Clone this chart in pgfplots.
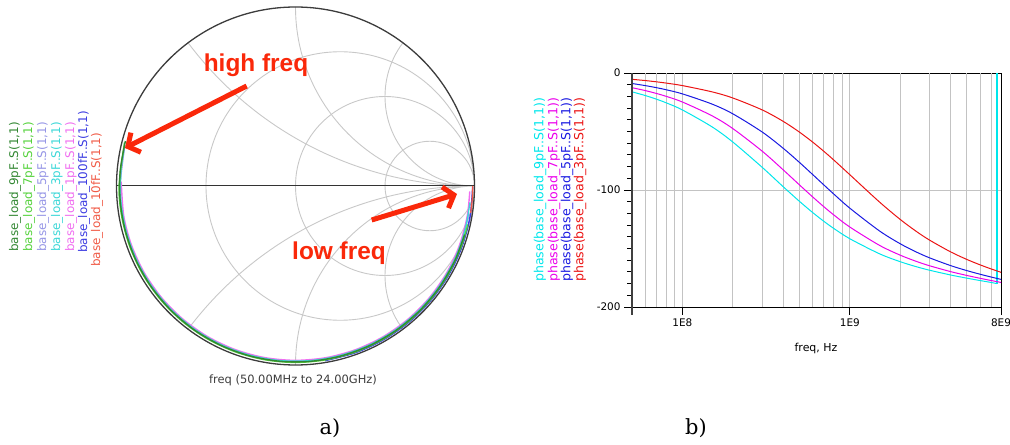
\documentclass[border=0pt]{standalone}
\usepackage{pgfplots}
\pgfplotsset{compat=1.18}
\usepackage{fontspec}
\setmainfont{DejaVu Sans}
\newfontfamily\arrowfont{Liberation Sans}
\newfontfamily\capfont{DejaVu Serif}
\usetikzlibrary{arrows.meta}
\definecolor{gridc}{RGB}{200,200,200}
\definecolor{gridb}{RGB}{195,195,195}
\definecolor{darkc}{RGB}{60,60,60}
\definecolor{arrowred}{RGB}{250,40,10}
\definecolor{cDkGreen}{RGB}{50,135,50}
\definecolor{cLtGreen}{RGB}{85,210,60}
\definecolor{cLav}{RGB}{150,150,230}
\definecolor{cCyanA}{RGB}{60,215,215}
\definecolor{cPink}{RGB}{240,110,240}
\definecolor{cBlueA}{RGB}{60,60,225}
\definecolor{cRedA}{RGB}{240,90,70}
\definecolor{cCyan}{RGB}{0,230,235}
\definecolor{cMag}{RGB}{235,0,235}
\definecolor{cBlue}{RGB}{25,25,225}
\definecolor{cRed}{RGB}{235,20,20}
\pgfplotstableread{
f p
5e7 -16.09
6e7 -19.26
7e7 -22.39
8e7 -25.49
1e8 -31.58
1.5e8 -45.96
2e8 -59.00
3e8 -80.70
4e8 -97.21
5e8 -109.68
6e8 -119.28
7e8 -126.78
8e8 -132.76
1e9 -141.66
1.5e9 -154.45
2e9 -161.29
2.5e9 -165.60
3e9 -168.60
4e9 -172.64
5e9 -175.35
6e9 -177.39
7e9 -179.05
7.4e9 -179.75
7.55e9 -180
}\tNine
\pgfplotstableread{
f p
7.55e9 -180
7.55e9 -100
7.55e9 0
}\tNineWrap
\pgfplotstableread{
f p
5e7 -12.55
6e7 -15.03
7e7 -17.50
8e7 -19.96
1e8 -24.80
1.5e8 -36.52
2e8 -47.50
3e8 -66.90
4e8 -82.80
5e8 -95.62
6e8 -105.94
7e8 -114.33
8e8 -121.18
1e9 -131.66
1.5e9 -147.22
2e9 -155.70
2.5e9 -161.06
3e9 -164.80
4e9 -169.76
5e9 -173.04
6e9 -175.47
7e9 -177.40
8e9 -179.02
}\tSeven
\pgfplotstableread{
f p
5e7 -8.98
6e7 -10.77
7e7 -12.55
8e7 -14.32
1e8 -17.85
1.5e8 -26.52
2e8 -34.89
3e8 -50.50
4e8 -64.36
5e8 -76.42
6e8 -86.81
7e8 -95.70
8e8 -103.32
1e9 -115.54
1.5e9 -134.89
2e9 -145.95
2.5e9 -153.05
3e9 -158.03
4e9 -164.62
5e9 -168.90
6e9 -172.00
7e9 -174.42
8e9 -176.41
}\tFive
\pgfplotstableread{
f p
5e7 -5.40
6e7 -6.47
7e7 -7.55
8e7 -8.62
1e8 -10.77
1.5e8 -16.09
2e8 -21.35
3e8 -31.59
4e8 -41.34
5e8 -50.52
6e8 -59.08
7e8 -66.98
8e8 -74.24
1e9 -86.94
1.5e9 -110.14
2e9 -125.17
2.5e9 -135.48
3e9 -142.90
4e9 -152.89
5e9 -159.36
6e9 -163.98
7e9 -167.52
8e9 -170.36
}\tThree
\begin{document}
\begin{tikzpicture}
\path[use as bounding box] (0bp,0bp) rectangle (1010bp,445bp);
% ---------- Smith chart grid ----------
\begin{scope}[shift={(295.5bp,259bp)}, x=179bp, y=179bp]
  \begin{scope}
    \clip (0,0) circle[radius=1];
    \draw[gridc, line width=0.9bp] (0.25,0) circle[radius=0.75] (0.5,0) circle[radius=0.5] (0.75,0) circle[radius=0.25];
    \draw[gridc, line width=0.9bp] (1,2) circle[radius=2] (1,-2) circle[radius=2] (1,1) circle[radius=1] (1,-1) circle[radius=1] (1,0.5) circle[radius=0.5] (1,-0.5) circle[radius=0.5];
  \end{scope}
  \draw[darkc, line width=1.3bp] (0,0) circle[radius=1];
  \draw[black!80, line width=1bp] (-1,0) -- (1,0);
\end{scope}
% ---------- Smith chart traces ----------
\begin{axis}[
  at={(295.5bp,259bp)}, anchor=center,
  x=179bp, y=179bp, xmin=-1, xmax=1, ymin=-1, ymax=1,
  hide axis, clip=false,
]
\addplot[cPink, line width=1.4bp, smooth, data cs=polar] coordinates {
(-1.8,0.974) (-10,0.974) (-20,0.974) (-30,0.974) (-40,0.974) (-50,0.974) (-60,0.974) (-70,0.974) (-80,0.974) (-90,0.974) (-100,0.974) (-110,0.974) (-120,0.974) (-130,0.974) (-140,0.974) (-150,0.974) (-160,0.974) (-170,0.974) (-181.4,0.974)};
\addplot[cLav, line width=1.3bp, smooth, data cs=polar] coordinates {
(-9,0.98) (-20,0.98) (-30,0.98) (-40,0.98) (-50,0.98) (-60,0.98) (-70,0.98) (-80,0.98) (-90,0.98) (-100,0.98) (-110,0.98) (-120,0.98) (-130,0.98) (-140,0.98) (-150,0.98) (-160,0.98) (-170,0.98) (-180,0.98) (-193.5,0.98)};
\addplot[cCyanA, line width=1.3bp, smooth, data cs=polar] coordinates {
(-5.4,0.979) (-15,0.979) (-25,0.979) (-35,0.979) (-45,0.979) (-55,0.979) (-65,0.979) (-75,0.979) (-85,0.979) (-95,0.979) (-105,0.979) (-115,0.979) (-125,0.979) (-135,0.979) (-145,0.979) (-155,0.979) (-165,0.979) (-175,0.979) (-185,0.979) (-191.5,0.979)};
\addplot[cBlueA, line width=1.4bp, smooth, data cs=polar] coordinates {
(-0.2,0.99) (-10,0.99) (-20,0.99) (-30,0.99) (-40,0.99) (-50,0.99) (-60,0.99) (-70,0.99) (-80.4,0.99)};
\addplot[cRedA, line width=1.3bp, smooth, data cs=polar] coordinates {
(0,0.99) (-3,0.99) (-6,0.99) (-8.7,0.99)};
\addplot[cLtGreen, line width=1.3bp, smooth, data cs=polar] coordinates {
(-12.6,0.986) (-20,0.986) (-30,0.986) (-40,0.986) (-50,0.986) (-60,0.986) (-70,0.986) (-80,0.986) (-90,0.986) (-100,0.986) (-110,0.986) (-120,0.986) (-130,0.986) (-140,0.986) (-150,0.986) (-160,0.986) (-170,0.986) (-180,0.986) (-194.3,0.986)};
\addplot[cDkGreen, line width=1.4bp, smooth, data cs=polar] coordinates {
(-16,0.983) (-25,0.983) (-35,0.983) (-45,0.983) (-55,0.983) (-65,0.983) (-75,0.983) (-85,0.983) (-95,0.983) (-105,0.983) (-115,0.983) (-125,0.983) (-135,0.983) (-145,0.983) (-155,0.983) (-165,0.983) (-175,0.983) (-185,0.983) (-194.8,0.983)};
\end{axis}
% arrows and labels of panel a
\draw[arrowred, line width=5bp, -{Straight Barb[length=9bp,width=22bp]}] (246.7bp,359bp) -- (125bp,297bp);
\draw[arrowred, line width=5bp, -{Straight Barb[length=9bp,width=22bp]}] (371.7bp,225bp) -- (457bp,251bp);
\node[anchor=base, text=arrowred, font=\arrowfont\bfseries\fontsize{24.5}{28}\selectfont, inner sep=0pt] at (256bp,373.3bp) {high freq};
\node[anchor=base, text=arrowred, font=\arrowfont\bfseries\fontsize{24.5}{28}\selectfont, inner sep=0pt] at (339bp,185.7bp) {low freq};
\node[anchor=base, text=darkc, font=\fontsize{11.5}{13}\selectfont, inner sep=0pt] at (293bp,61bp) {freq (50.00MHz to 24.00GHz)};
\begin{scope}[every node/.style={rotate=90, anchor=west, inner sep=0pt, font=\fontsize{12}{14}\selectfont}]
  \node[text=cDkGreen] at (15bp,193bp) {base\_load\_9pF..S(1,1)};
  \node[text=cLtGreen] at (29bp,193bp) {base\_load\_7pF..S(1,1)};
  \node[text=cLav] at (43bp,193bp) {base\_load\_5pF..S(1,1)};
  \node[text=cCyanA] at (57bp,193bp) {base\_load\_3pF..S(1,1)};
  \node[text=cPink] at (71bp,193bp) {base\_load\_1pF..S(1,1)};
  \node[text=cBlueA] at (84bp,192bp) {base\_load\_100fF..S(1,1)};
  \node[text=cRedA] at (97bp,178bp) {base\_load\_10fF..S(1,1)};
\end{scope}
% ---------- panel b ----------
\begin{axis}[
  at={(632bp,138bp)}, anchor=south west,
  scale only axis, width=369bp, height=234bp,
  xmode=log, xmin=5e7, xmax=8e9, ymin=-200, ymax=0,
  xtick={5e7,1e8,1e9,8e9}, xticklabels={,1E8,1E9,8E9},
  minor xtick={},
  ytick={-200,-100,0}, yticklabels={-200,-100,0},
  minor ytick={-190,-180,-170,-160,-150,-140,-130,-120,-110,-90,-80,-70,-60,-50,-40,-30,-20,-10},
  extra x ticks={6e7,7e7,8e7,9e7,2e8,3e8,4e8,5e8,6e8,7e8,8e8,9e8,2e9,3e9,4e9,5e9,6e9,7e9},
  extra x tick labels={},
  extra x tick style={grid=major, major tick length=0pt},
  xmajorgrids, ymajorgrids,
  major grid style={color=gridb, line width=0.9bp},
  tick align=outside,
  xtick pos=bottom, ytick pos=left,
  major tick length=8bp, minor tick length=5bp,
  tick style={black, line width=0.9bp},
  axis line style={black, line width=0.9bp},
  ticklabel style={font=\fontsize{10.5}{12}\selectfont},
  clip=false,
]
\addplot[cCyan, line width=1bp, smooth] table[x=f, y=p] {\tNine};
\addplot[cCyan, line width=1.8bp] table[x=f, y=p] {\tNineWrap};
\addplot[cMag, line width=1bp, smooth] table[x=f, y=p] {\tSeven};
\addplot[cBlue, line width=1bp, smooth] table[x=f, y=p] {\tFive};
\addplot[cRed, line width=1bp, smooth] table[x=f, y=p] {\tThree};
\end{axis}
\draw[black!75, line width=1.6bp] (632bp,130bp) -- (632bp,372bp);
\node[font=\fontsize{11}{13}\selectfont, inner sep=0pt] at (816bp,97bp) {freq, Hz};
\begin{scope}[every node/.style={rotate=90, anchor=west, inner sep=0pt, font=\fontsize{12.6}{14}\selectfont}]
  \node[text=cCyan] at (540bp,163bp) {phase(base\_load\_9pF..S(1,1))};
  \node[text=cMag] at (554bp,163bp) {phase(base\_load\_7pF..S(1,1))};
  \node[text=cBlue] at (567bp,163bp) {phase(base\_load\_5pF..S(1,1))};
  \node[text=cRed] at (580bp,163bp) {phase(base\_load\_3pF..S(1,1))};
\end{scope}
% ---------- panel captions ----------
\node[anchor=base, font=\capfont\fontsize{21}{24}\selectfont, inner sep=0pt] at (330bp,11bp) {a)};
\node[anchor=base, font=\capfont\fontsize{21}{24}\selectfont, inner sep=0pt] at (696bp,11bp) {b)};
\end{tikzpicture}
\end{document}
